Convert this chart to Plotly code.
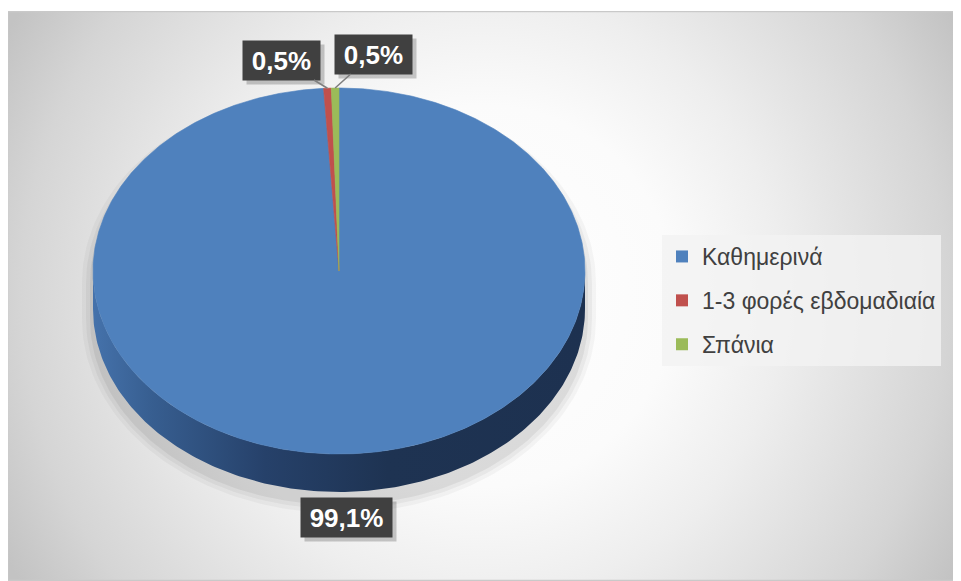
import base64
import numpy as np
import plotly.graph_objects as go

# ---------------- data ----------------
categories = ["Καθημερινά", "1-3 φορές εβδομαδιαία", "Σπάνια"]
values = [99.1, 0.5, 0.5]
value_labels = ["99,1%", "0,5%", "0,5%"]
colors = ["#4f81bd", "#c0504d", "#9bbb59"]

# ---------------- geometry / style ----------------
W, H = 961, 581
OFF = 8  # page body margin: axis units == screen pixels
CX, CY, RX, RY, DEPTH = 339, 271, 246, 183, 38
FONT = "Liberation Sans, Arial, sans-serif"

fractions = np.array(values, dtype=float) / np.sum(values)
bounds = np.concatenate([[0.0], np.cumsum(fractions)]) * 360.0


def ell(theta_deg, dy=0.0, rx=RX, ry=RY, cx=CX, cy=CY):
    th = np.radians(theta_deg)
    return cx + rx * np.sin(th), cy + dy - ry * np.cos(th)


def px(x):
    return (x - OFF) / W


def py(y):
    return 1 - (y - OFF) / H


fig = go.Figure()

# soft shadow of the whole pie (silhouette, expanded + offset downwards)
for grow, alpha in [(11, 0.035), (7, 0.045), (3, 0.06)]:
    t_top = np.linspace(270, 450, 120)
    t_bot = np.linspace(90, 270, 120)
    x1, y1 = ell(t_top, dy=12, rx=RX + grow, ry=RY + grow)
    x2, y2 = ell(t_bot, dy=DEPTH + 10, rx=RX + grow, ry=RY + grow)
    fig.add_trace(go.Scatter(
        x=np.concatenate([x1, x2]), y=np.concatenate([y1, y2]),
        fill="toself", mode="lines", line=dict(width=0),
        fillcolor=f"rgba(0,0,0,{alpha})", hoverinfo="skip", showlegend=False))

# side walls (visible front half only)
side_scale = [[0, "#4572ab"], [0.12, "#375e90"], [0.35, "#26416a"],
              [0.6, "#1e3352"], [1, "#1d3150"]]
for i in range(len(values)):
    a0, a1 = max(bounds[i], 90.0), min(bounds[i + 1], 270.0)
    if a1 <= a0:
        continue
    t = np.linspace(a0, a1, 200)
    xt, yt = ell(t)
    xb, yb = ell(t[::-1], dy=DEPTH)
    fig.add_trace(go.Scatter(
        x=np.concatenate([xt, xb]), y=np.concatenate([yt, yb]),
        fill="toself", mode="lines", line=dict(width=0),
        fillgradient=dict(type="horizontal", colorscale=side_scale),
        hoverinfo="skip", showlegend=False))

# top faces
for i, (name, col) in enumerate(zip(categories, colors)):
    t = np.linspace(bounds[i], bounds[i + 1], max(3, int((bounds[i + 1] - bounds[i]) * 2)))
    xa, ya = ell(t)
    fig.add_trace(go.Scatter(
        x=np.concatenate([[CX], xa, [CX]]), y=np.concatenate([[CY], ya, [CY]]),
        fill="toself", mode="lines", line=dict(width=0.6, color=col),
        fillcolor=col, name=name, hoverinfo="name", showlegend=False))

# legend entries
for i, (name, col) in enumerate(zip(categories, colors)):
    fig.add_trace(go.Scatter(
        x=[None], y=[None], mode="markers", name=name, legendgroup=f"g{i}",
        marker=dict(symbol="square", size=12, color=col)))

# ---------------- data labels ----------------
mids = (bounds[:-1] + bounds[1:]) / 2.0
label_pos = {1: (281, 60), 2: (373, 54)}
box_sizes = {0: (91, 39), 1: (77, 39), 2: (77, 39)}
annotations = []
for i, txt in enumerate(value_labels):
    bw, bh = box_sizes[i]
    if i == 0:
        lx, ly = ell(mids[i], dy=DEPTH)
        lx, ly = float(lx), float(ly) + 26
        arrow = False
        ptx, pty = lx, ly
    else:
        ptx, pty = ell(mids[i])
        ptx, pty = float(ptx), float(pty)
        lx, ly = label_pos[i]
        arrow = True
    # box shadow
    annotations.append(dict(
        x=lx + 4, y=ly + 4, xref="x", yref="y", text=" ", showarrow=False,
        width=bw, height=bh, bgcolor="rgba(0,0,0,0.2)", borderpad=0,
        font=dict(size=22)))
    common = dict(text=f"<b>{txt}</b>", width=bw, height=bh, bgcolor="#404040",
                  borderpad=0, font=dict(size=26, color="white", family=FONT))
    if arrow:
        annotations.append(dict(
            x=ptx, y=pty, xref="x", yref="y", ax=lx, ay=ly, axref="x", ayref="y",
            showarrow=True, arrowhead=0, arrowwidth=1.6, arrowcolor="#7f7f7f",
            **common))
    else:
        annotations.append(dict(x=lx, y=ly, xref="x", yref="y",
                                showarrow=False, **common))

# ---------------- background (radial gradient chart area) ----------------
BX, BY = 7, 11          # chart-area top-left on screen
BW, BH = 961 - BX, 581 - BY
svg = (
    f'<svg xmlns="http://www.w3.org/2000/svg" width="{BW}" height="{BH}" '
    f'viewBox="0 0 {BW} {BH}" preserveAspectRatio="none">'
    '<defs><radialGradient id="g" gradientUnits="userSpaceOnUse" '
    f'cx="{BW/2}" cy="{BH/2}" r="545">'
    '<stop offset="0" stop-color="#ffffff"/>'
    '<stop offset="0.35" stop-color="#fbfbfb"/>'
    '<stop offset="0.55" stop-color="#eeeeee"/>'
    '<stop offset="0.85" stop-color="#d5d5d5"/>'
    '<stop offset="1" stop-color="#c3c3c3"/>'
    '</radialGradient></defs>'
    f'<rect x="0" y="0" width="{BW}" height="{BH}" fill="url(#g)"/>'
    f'<rect x="0.5" y="0.5" width="{BW-1}" height="{BH-1}" fill="none" '
    'stroke="#c9c9c9" stroke-width="1.5"/>'
    '</svg>'
)
src = "data:image/svg+xml;base64," + base64.b64encode(svg.encode()).decode()

fig.update_layout(
    width=W, height=H, margin=dict(l=0, r=0, t=0, b=0),
    paper_bgcolor="white", plot_bgcolor="rgba(0,0,0,0)",
    font=dict(family=FONT, color="#404040"),
    xaxis=dict(range=[OFF, W + OFF], visible=False, fixedrange=True),
    yaxis=dict(range=[H + OFF, OFF], visible=False, fixedrange=True),
    images=[dict(source=src, xref="paper", yref="paper",
                 x=px(BX), y=py(BY), sizex=BW / W, sizey=BH / H,
                 xanchor="left", yanchor="top", sizing="stretch",
                 layer="below")],
    legend=dict(x=px(662), y=py(235), xanchor="left", yanchor="top",
                bgcolor="rgba(243,243,243,0.8)", borderwidth=0,
                font=dict(size=23, color="#404040", family=FONT),
                traceorder="grouped", tracegroupgap=11, itemwidth=30),
    annotations=annotations,
    showlegend=True,
)

fig.write_html("out.html")
